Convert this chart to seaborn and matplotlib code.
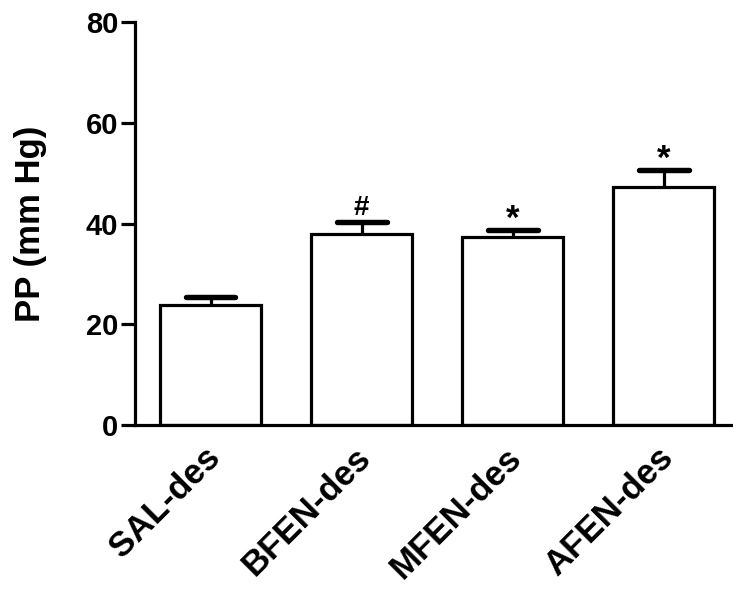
import matplotlib
matplotlib.use("Agg")
import matplotlib.pyplot as plt
import matplotlib.transforms as mtransforms
import seaborn as sns
import pandas as pd

# -------------------------------
# Data
# -------------------------------
groups = ["SAL-des", "BFEN-des", "MFEN-des", "AFEN-des"]
pp_mean = [23.8, 38.0, 37.3, 47.3]
pp_sem = [1.7, 2.3, 1.5, 3.4]
marks = ["", "#", "*", "*"]

df = pd.DataFrame({"group": groups, "pp": pp_mean})

sns.set_style("ticks")
plt.rcParams["font.family"] = ["Liberation Sans", "DejaVu Sans"]
plt.rcParams["font.weight"] = "bold"
for key in ["text.color", "axes.labelcolor", "xtick.color", "ytick.color", "axes.edgecolor"]:
    plt.rcParams[key] = "black"

lw = 2.3
fig = plt.figure(figsize=(7.33, 5.89), dpi=100)
ax = fig.add_axes([0.1842, 0.2784, 0.816, 0.684])

sns.barplot(data=df, x="group", y="pp", color="white", edgecolor="black",
            linewidth=lw, width=0.67, errorbar=None, ax=ax)

# upper error bars only (stem + cap)
xs = list(range(len(groups)))
tops = [m + s for m, s in zip(pp_mean, pp_sem)]
ax.vlines(xs, pp_mean, tops, color="black", linewidth=lw, zorder=1)
ax.hlines(tops, [x - 0.165 for x in xs], [x + 0.165 for x in xs],
          color="black", linewidth=lw * 1.7, capstyle="round", zorder=3)

# significance marks
for i, (t, mk) in enumerate(zip(tops, marks)):
    if mk == "#":
        ax.text(i, t + 1.4, mk, ha="center", va="baseline", fontsize=20, fontweight="bold")
    elif mk == "*":
        ax.text(i, t + 0.2, mk, ha="center", va="baseline", fontsize=25, fontweight="bold")

ax.set_ylim(0, 80)
ax.set_xlim(-0.5, 3.46)
ax.set_yticks([0, 20, 40, 60, 80])
ax.set_xlabel("")
ax.set_ylabel("PP (mm Hg)", fontsize=25, fontweight="bold", labelpad=28)

sns.despine(ax=ax)
for side in ["left", "bottom"]:
    ax.spines[side].set_linewidth(lw)
ax.tick_params(axis="y", length=10, width=lw, labelsize=21, pad=2)
ax.tick_params(axis="x", length=0, labelsize=25, pad=20)
shift = mtransforms.ScaledTranslation(3 / 72, 0, fig.dpi_scale_trans)
for lab in ax.get_xticklabels():
    lab.set_rotation(45)
    lab.set_ha("right")
    lab.set_va("center")
    lab.set_rotation_mode("anchor")
    lab.set_fontweight("bold")
    lab.set_transform(lab.get_transform() + shift)
for lab in ax.get_yticklabels():
    lab.set_fontweight("bold")

fig.savefig("out.png", dpi=100)
